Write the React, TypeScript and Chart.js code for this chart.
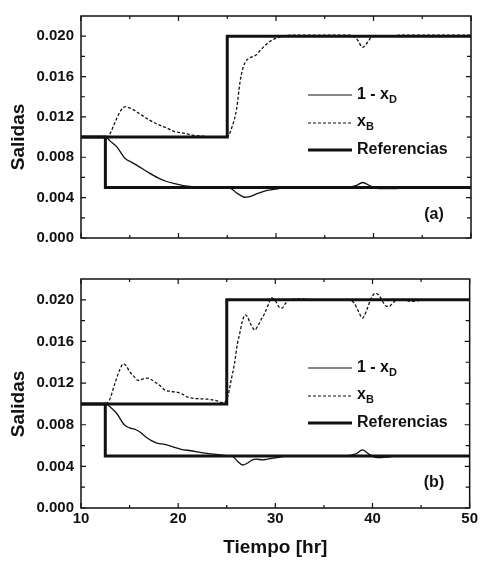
import React, { useEffect, useRef } from 'react';
import { Chart, registerables } from 'chart.js';

Chart.register(...registerables);

const FONT = '"Liberation Sans", Arial, Helvetica, sans-serif';
const INK = '#111111';

// ---- axis ticks ----
const xTickValues = [10, 20, 30, 40, 50];
const xMinorValues = [15, 25, 35, 45];
const yTickValues = [0, 0.004, 0.008, 0.012, 0.016, 0.02];
const yMinorValues = [0.002, 0.006, 0.01, 0.014, 0.018];

// ---- references (setpoints) ----
const refBTime = [10, 25, 25, 50];
const refBValue = [0.01, 0.01, 0.02, 0.02];
const refDTime = [10, 12.5, 12.5, 50];
const refDValue = [0.01, 0.01, 0.005, 0.005];

// ---- panel (a) ----
const xDTimeA = [10, 12.5, 13, 13.7, 14.5, 15.2, 15.9, 16.9, 17.9, 18.8, 19.6, 20.5, 21.4, 22.5, 23.5, 24.5, 25.4, 25.9, 26.4, 26.8, 27.3, 28.2, 29.0, 29.9, 31, 33, 35, 37, 38.2, 38.9, 39.6, 40.5, 42, 44, 46, 48, 50];
const xDValueA = [0.01, 0.01, 0.0096, 0.009, 0.0079, 0.0075, 0.0071, 0.0065, 0.00596, 0.0056, 0.00538, 0.0052, 0.0051, 0.00505, 0.005, 0.005, 0.0049, 0.0045, 0.0042, 0.00404, 0.0041, 0.00445, 0.0047, 0.00484, 0.005, 0.005, 0.005, 0.005, 0.0052, 0.0055, 0.0052, 0.0049, 0.0049, 0.005, 0.005, 0.005, 0.005];
const xBTimeA = [10, 12.5, 12.9, 13.5, 14.0, 14.5, 15.2, 16.2, 17.0, 17.9, 18.8, 19.6, 20.5, 21.4, 22.5, 23.5, 25.0, 25.45, 25.97, 26.3, 26.6, 26.9, 27.4, 27.9, 28.4, 28.9, 29.4, 29.9, 30.7, 32, 34, 36, 37.5, 38.3, 38.9, 39.4, 39.9, 41, 43, 45, 47, 50];
const xBValueA = [0.01, 0.01, 0.0102, 0.0115, 0.0125, 0.013, 0.0128, 0.0122, 0.0117, 0.01125, 0.0109, 0.01055, 0.0104, 0.0102, 0.0101, 0.01, 0.01, 0.0109, 0.01285, 0.0154, 0.0168, 0.0175, 0.0179, 0.0181, 0.0186, 0.0191, 0.0195, 0.01975, 0.02, 0.0201, 0.0201, 0.0201, 0.0201, 0.0197, 0.0189, 0.0194, 0.02, 0.02, 0.0201, 0.0201, 0.0201, 0.0201];

// ---- panel (b) ----
const xDTimeB = [10, 12.5, 13.0, 13.66, 14.45, 15.0, 15.5, 15.9, 16.2, 16.7, 17.25, 17.9, 18.6, 19.4, 20.3, 21.3, 22.4, 23.4, 24.4, 25.2, 25.6, 26.1, 26.65, 27.1, 27.6, 28.0, 28.7, 29.2, 29.8, 30.5, 31.5, 34, 37, 38.3, 38.96, 39.6, 40.2, 40.9, 41.6, 42.5, 45, 50];
const xDValueB = [0.01, 0.01, 0.0097, 0.0091, 0.008, 0.0077, 0.00757, 0.0074, 0.0072, 0.0068, 0.00647, 0.0062, 0.00612, 0.0059, 0.00564, 0.0055, 0.00532, 0.0052, 0.0051, 0.005, 0.00495, 0.0045, 0.00413, 0.0043, 0.0046, 0.0047, 0.00462, 0.0047, 0.0048, 0.0049, 0.005, 0.005, 0.005, 0.0052, 0.00558, 0.0052, 0.0049, 0.00485, 0.0049, 0.005, 0.005, 0.005];
const xBTimeB = [10, 12.5, 12.9, 13.5, 14.0, 14.35, 14.7, 15.0, 15.5, 15.9, 16.4, 16.9, 17.3, 17.76, 18.2, 18.6, 19.3, 20.0, 20.5, 21.0, 22.0, 23.05, 24.0, 24.6, 25.1, 25.5, 25.8, 26.1, 26.3, 26.6, 26.9, 27.1, 27.5, 27.9, 28.2, 28.6, 28.9, 29.3, 29.6, 30.0, 30.4, 30.7, 31.0, 31.4, 32.5, 34, 36, 37.5, 38.1, 38.6, 38.96, 39.4, 39.8, 40.3, 40.7, 41.0, 41.4, 41.7, 42.1, 42.5, 43.2, 44, 44.6, 45.2, 47, 50];
const xBValueB = [0.01, 0.01, 0.0103, 0.012, 0.0133, 0.01385, 0.0136, 0.0131, 0.0126, 0.01225, 0.0124, 0.01247, 0.0123, 0.012, 0.0117, 0.01135, 0.0112, 0.0111, 0.0109, 0.01064, 0.0105, 0.01045, 0.0103, 0.0101, 0.0107, 0.0125, 0.0139, 0.0158, 0.0166, 0.0179, 0.01856, 0.0184, 0.0176, 0.0171, 0.0175, 0.0182, 0.0187, 0.0196, 0.0202, 0.0199, 0.0193, 0.0192, 0.0196, 0.02, 0.0201, 0.02, 0.02, 0.02, 0.0197, 0.0188, 0.01824, 0.019, 0.02, 0.02064, 0.0204, 0.0199, 0.0194, 0.01936, 0.0197, 0.02, 0.02, 0.01985, 0.0199, 0.02, 0.02, 0.02];

const zip = (t: number[], v: number[]) => t.map((x, i) => ({ x, y: v[i] }));

type PanelOpts = {
  label: string;
  legendRows: number[]; // offsets from chart-area top
  labelOffset: number; // offset from chart-area bottom
  titleOffset: number; // y-title centre offset from chart-area top
};

const decorPlugin = {
  id: 'decor',
  afterDatasetsDraw(chart: any, _args: any, opts: PanelOpts) {
    const { ctx, chartArea: a, scales } = chart;
    const x = scales.x;
    const y = scales.y;
    ctx.save();
    ctx.strokeStyle = INK;
    ctx.fillStyle = INK;
    // frame
    ctx.lineWidth = 1.5;
    ctx.strokeRect(a.left, a.top, a.right - a.left, a.bottom - a.top);
    // inward ticks on all sides
    ctx.lineWidth = 1.2;
    const tickX = (vals: number[], len: number) => {
      vals.forEach((v) => {
        const px = x.getPixelForValue(v);
        ctx.beginPath();
        ctx.moveTo(px, a.bottom);
        ctx.lineTo(px, a.bottom - len);
        ctx.moveTo(px, a.top);
        ctx.lineTo(px, a.top + len);
        ctx.stroke();
      });
    };
    const tickY = (vals: number[], len: number) => {
      vals.forEach((v) => {
        const py = y.getPixelForValue(v);
        ctx.beginPath();
        ctx.moveTo(a.left, py);
        ctx.lineTo(a.left + len, py);
        ctx.moveTo(a.right, py);
        ctx.lineTo(a.right - len, py);
        ctx.stroke();
      });
    };
    tickX(xTickValues, 5);
    tickX(xMinorValues, 3);
    tickY(yTickValues, 5);
    tickY(yMinorValues, 4);

    // legend
    const lx0 = 308;
    const lx1 = 352;
    const tx = 357;
    const rows = opts.legendRows.map((r) => a.top + r);
    ctx.textBaseline = 'middle';
    ctx.textAlign = 'left';
    // row 1: 1 - xD (thin solid)
    ctx.setLineDash([]);
    ctx.lineWidth = 1.2;
    ctx.beginPath();
    ctx.moveTo(lx0, rows[0]);
    ctx.lineTo(lx1, rows[0]);
    ctx.stroke();
    ctx.font = `bold 16px ${FONT}`;
    ctx.fillText('1 - x', tx, rows[0]);
    let w = ctx.measureText('1 - x').width;
    ctx.font = `bold 11px ${FONT}`;
    ctx.fillText('D', tx + w, rows[0] + 5);
    // row 2: xB (dotted)
    ctx.setLineDash([3, 2]);
    ctx.lineWidth = 1.2;
    ctx.beginPath();
    ctx.moveTo(lx0, rows[1]);
    ctx.lineTo(lx1, rows[1]);
    ctx.stroke();
    ctx.setLineDash([]);
    ctx.font = `bold 16px ${FONT}`;
    ctx.fillText('x', tx, rows[1] - 1);
    w = ctx.measureText('x').width;
    ctx.font = `bold 11px ${FONT}`;
    ctx.fillText('B', tx + w, rows[1] + 4);
    // row 3: Referencias (thick)
    ctx.lineWidth = 3;
    ctx.beginPath();
    ctx.moveTo(lx0, rows[2]);
    ctx.lineTo(lx1, rows[2]);
    ctx.stroke();
    ctx.font = `bold 16px ${FONT}`;
    ctx.fillText('Referencias', tx, rows[2]);

    // panel label
    ctx.textAlign = 'center';
    ctx.font = `bold 16px ${FONT}`;
    ctx.fillText(opts.label, 434, a.bottom - opts.labelOffset);

    // y title
    ctx.save();
    ctx.translate(19, a.top + opts.titleOffset);
    ctx.rotate(-Math.PI / 2);
    ctx.font = `bold 19px ${FONT}`;
    ctx.textAlign = 'center';
    ctx.textBaseline = 'middle';
    ctx.fillText('Salidas', 0, 0);
    ctx.restore();

    ctx.restore();
  },
};

type PanelProps = {
  xDTime: number[];
  xDValue: number[];
  xBTime: number[];
  xBValue: number[];
  showX: boolean;
  padTop: number;
  padBottom: number;
  decor: PanelOpts;
};

function Panel(p: PanelProps) {
  const ref = useRef<HTMLCanvasElement | null>(null);
  useEffect(() => {
    if (!ref.current) return;
    const tickFont = { family: FONT, size: 15, weight: 'bold' as const };
    const chart = new Chart(ref.current, {
      type: 'line',
      data: {
        datasets: [
          {
            label: 'Referencias',
            data: zip(refBTime, refBValue),
            borderColor: INK,
            borderWidth: 3,
            pointRadius: 0,
            tension: 0,
            fill: false,
          },
          {
            label: 'Referencias',
            data: zip(refDTime, refDValue),
            borderColor: INK,
            borderWidth: 3,
            pointRadius: 0,
            tension: 0,
            fill: false,
          },
          {
            label: '1 - xD',
            data: zip(p.xDTime, p.xDValue),
            borderColor: INK,
            borderWidth: 1.3,
            pointRadius: 0,
            cubicInterpolationMode: 'monotone',
            fill: false,
          },
          {
            label: 'xB',
            data: zip(p.xBTime, p.xBValue),
            borderColor: INK,
            borderWidth: 1.3,
            borderDash: [3, 2],
            pointRadius: 0,
            cubicInterpolationMode: 'monotone',
            fill: false,
          },
        ],
      },
      options: {
        responsive: false,
        animation: false,
        events: [],
        layout: { padding: { left: 0, right: 9, top: p.padTop, bottom: p.padBottom } },
        plugins: {
          legend: { display: false },
          tooltip: { enabled: false },
          decor: p.decor,
        } as any,
        scales: {
          x: {
            type: 'linear',
            min: 10,
            max: 50,
            grid: { display: false, drawTicks: false },
            border: { display: false },
            afterBuildTicks: (s: any) => {
              s.ticks = xTickValues.map((v) => ({ value: v }));
            },
            ticks: {
              display: p.showX,
              padding: 2,
              color: INK,
              font: tickFont,
              callback: (v: any) => String(v),
            },
            title: {
              display: p.showX,
              text: 'Tiempo [hr]',
              color: INK,
              font: { family: FONT, size: 19, weight: 'bold' },
              padding: { top: 0, bottom: 8 },
            },
            afterFit: (s: any) => {
              s.height = p.showX ? 59 : 0;
            },
          },
          y: {
            type: 'linear',
            min: 0,
            max: 0.022,
            grid: { display: false, drawTicks: false },
            border: { display: false },
            afterBuildTicks: (s: any) => {
              s.ticks = yTickValues.map((v) => ({ value: v }));
            },
            ticks: {
              padding: 7,
              color: INK,
              font: tickFont,
              callback: (v: any) => Number(v).toFixed(3),
            },
            afterFit: (s: any) => {
              s.width = 81;
            },
          },
        },
      } as any,
      plugins: [decorPlugin as any],
    });
    return () => chart.destroy();
  }, []);
  return (
    <canvas
      ref={ref}
      width={480}
      height={567}
      style={{ position: 'absolute', left: 0, top: 0, width: 480, height: 567 }}
    />
  );
}

export default function App() {
  return (
    <div style={{ position: 'absolute', left: 0, top: 0, width: 480, height: 567, background: '#ffffff', overflow: 'hidden' }}>
      <Panel
        xDTime={xDTimeA}
        xDValue={xDValueA}
        xBTime={xBTimeA}
        xBValue={xBValueA}
        showX={false}
        padTop={8}
        padBottom={329}
        decor={{ label: '(a)', legendRows: [79, 107, 134], labelOffset: 23, titleOffset: 121 }}
      />
      <Panel
        xDTime={xDTimeB}
        xDValue={xDValueB}
        xBTime={xBTimeB}
        xBValue={xBValueB}
        showX={true}
        padTop={279}
        padBottom={0}
        decor={{ label: '(b)', legendRows: [89, 117, 144], labelOffset: 25, titleOffset: 125 }}
      />
    </div>
  );
}
